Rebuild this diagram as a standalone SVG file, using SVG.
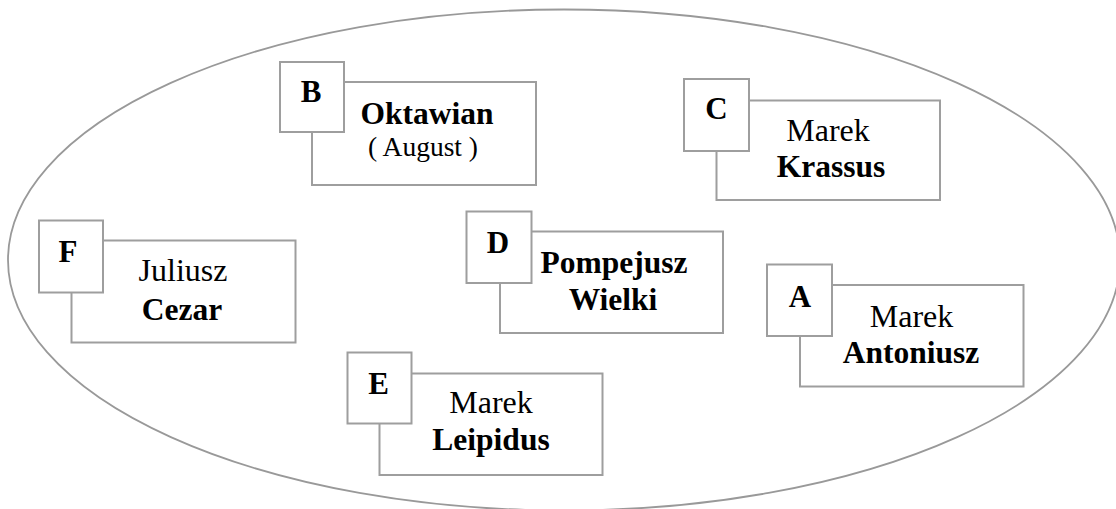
<svg xmlns="http://www.w3.org/2000/svg" width="1116" height="509" viewBox="0 0 1116 509">
<style>
.box{fill:#fff;stroke:#9e9e9e;stroke-width:2}
text{font-family:"Liberation Serif","DejaVu Serif",serif;fill:#000;text-anchor:middle}
.lbl{font-weight:bold;font-size:31px}
.b{font-weight:bold;font-size:31.5px}
.r{font-size:32px}
.s{font-size:27.5px}
</style>
<rect width="1116" height="509" fill="#fff"/>
<ellipse id="set" cx="564" cy="260" rx="556" ry="250.5" fill="none" stroke="#999" stroke-width="1.8"/>
<g id="nodeB">
<rect class="box" x="312" y="82" width="224" height="103"/>
<rect class="box" x="280" y="62" width="64" height="70"/>
<text class="lbl" x="311" y="102">B</text>
<text class="b" x="427" y="124">Oktawian</text>
<text class="s" x="423" y="156">( August )</text>
</g>
<g id="nodeC">
<rect class="box" x="716.5" y="100.5" width="223.5" height="99.5"/>
<rect class="box" x="684" y="79" width="65" height="72"/>
<text class="lbl" x="716.5" y="119">C</text>
<text class="r" x="828" y="141">Marek</text>
<text class="b" x="831" y="177">Krassus</text>
</g>
<g id="nodeF">
<rect class="box" x="71.5" y="240.5" width="224" height="102"/>
<rect class="box" x="39" y="220.5" width="64" height="72"/>
<text class="lbl" x="68" y="262">F</text>
<text class="r" x="183" y="281">Juliusz</text>
<text class="b" x="182" y="320">Cezar</text>
</g>
<g id="nodeD">
<rect class="box" x="500" y="231.5" width="223" height="101.5"/>
<rect class="box" x="466.5" y="211.5" width="65" height="71.5"/>
<text class="lbl" x="498" y="253">D</text>
<text class="b" x="614" y="273">Pompejusz</text>
<text class="b" x="613" y="310">Wielki</text>
</g>
<g id="nodeA">
<rect class="box" x="800" y="285" width="223.5" height="101.5"/>
<rect class="box" x="767" y="264.5" width="65" height="71.5"/>
<text class="lbl" x="800" y="307">A</text>
<text class="r" x="911.5" y="327">Marek</text>
<text class="b" x="911" y="363">Antoniusz</text>
</g>
<g id="nodeE">
<rect class="box" x="379.5" y="373.5" width="223" height="101.5"/>
<rect class="box" x="347.5" y="352.5" width="64" height="71"/>
<text class="lbl" x="378.5" y="394">E</text>
<text class="r" x="491" y="413">Marek</text>
<text class="b" x="491" y="450">Leipidus</text>
</g>
<g id="connectors"></g>
</svg>
